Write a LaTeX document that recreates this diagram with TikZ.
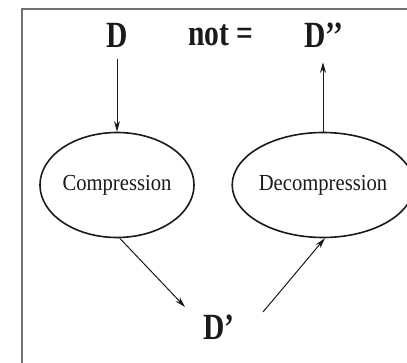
\documentclass[tikz,border=0pt]{standalone}
\usepackage{fontspec}
\usepackage{tikz}
\usetikzlibrary{arrows.meta,positioning,shapes.geometric}
\setmainfont{Liberation Serif}
\newfontfamily\tagfont[FakeStretch=0.8,Ligatures=TeX]{Liberation Serif}
\newfontfamily\stepfont[FakeStretch=0.9]{Liberation Serif}
\definecolor{Ink}{HTML}{1A1A1A}
\definecolor{Frame}{HTML}{707070}

\begin{document}
\begin{tikzpicture}[x=0.75pt,y=-0.75pt,
  tag/.style={font=\tagfont\bfseries\fontsize{27.7}{30}\selectfont,inner sep=0pt},
  stage/.style={ellipse,draw=Ink,line width=1.2pt,minimum width=115.5pt,
    minimum height=78.75pt,inner sep=0pt,font=\stepfont\fontsize{17.2}{19}\selectfont},
  link/.style={draw=Ink,line width=0.75pt,-{Stealth[length=8pt,width=4.5pt]}},
  every node/.style={text=Ink}]
  \useasboundingbox (0,0) rectangle (407,363);
  \draw[Frame,line width=1.6pt] (22,370) -- (22,9) -- (415,9);
  \node[tag] (D) at (117,35) {D};
  \node[tag] (neq) at (221,35) {not =};
  \node[tag] (Dpp) at (324,35) {D’’};
  \node[stage] (comp) at (117,185) {Compression};
  \node[stage] (decomp) at (323,185) {Decompression};
  \node[tag] (Dp) at (219,327) {D’};
  \coordinate (inDp) at (185,307);
  \coordinate (outDp) at (263,312);
  \draw[link,shorten <=9pt] (D.south) -- (comp.north);
  \draw[link,shorten >=11pt] (decomp.north) -- (decomp.north |- Dpp.south);
  \draw[link] (comp.-87) -- (inDp);
  \draw[link] (outDp) -- (decomp.-88);
\end{tikzpicture}
\end{document}
